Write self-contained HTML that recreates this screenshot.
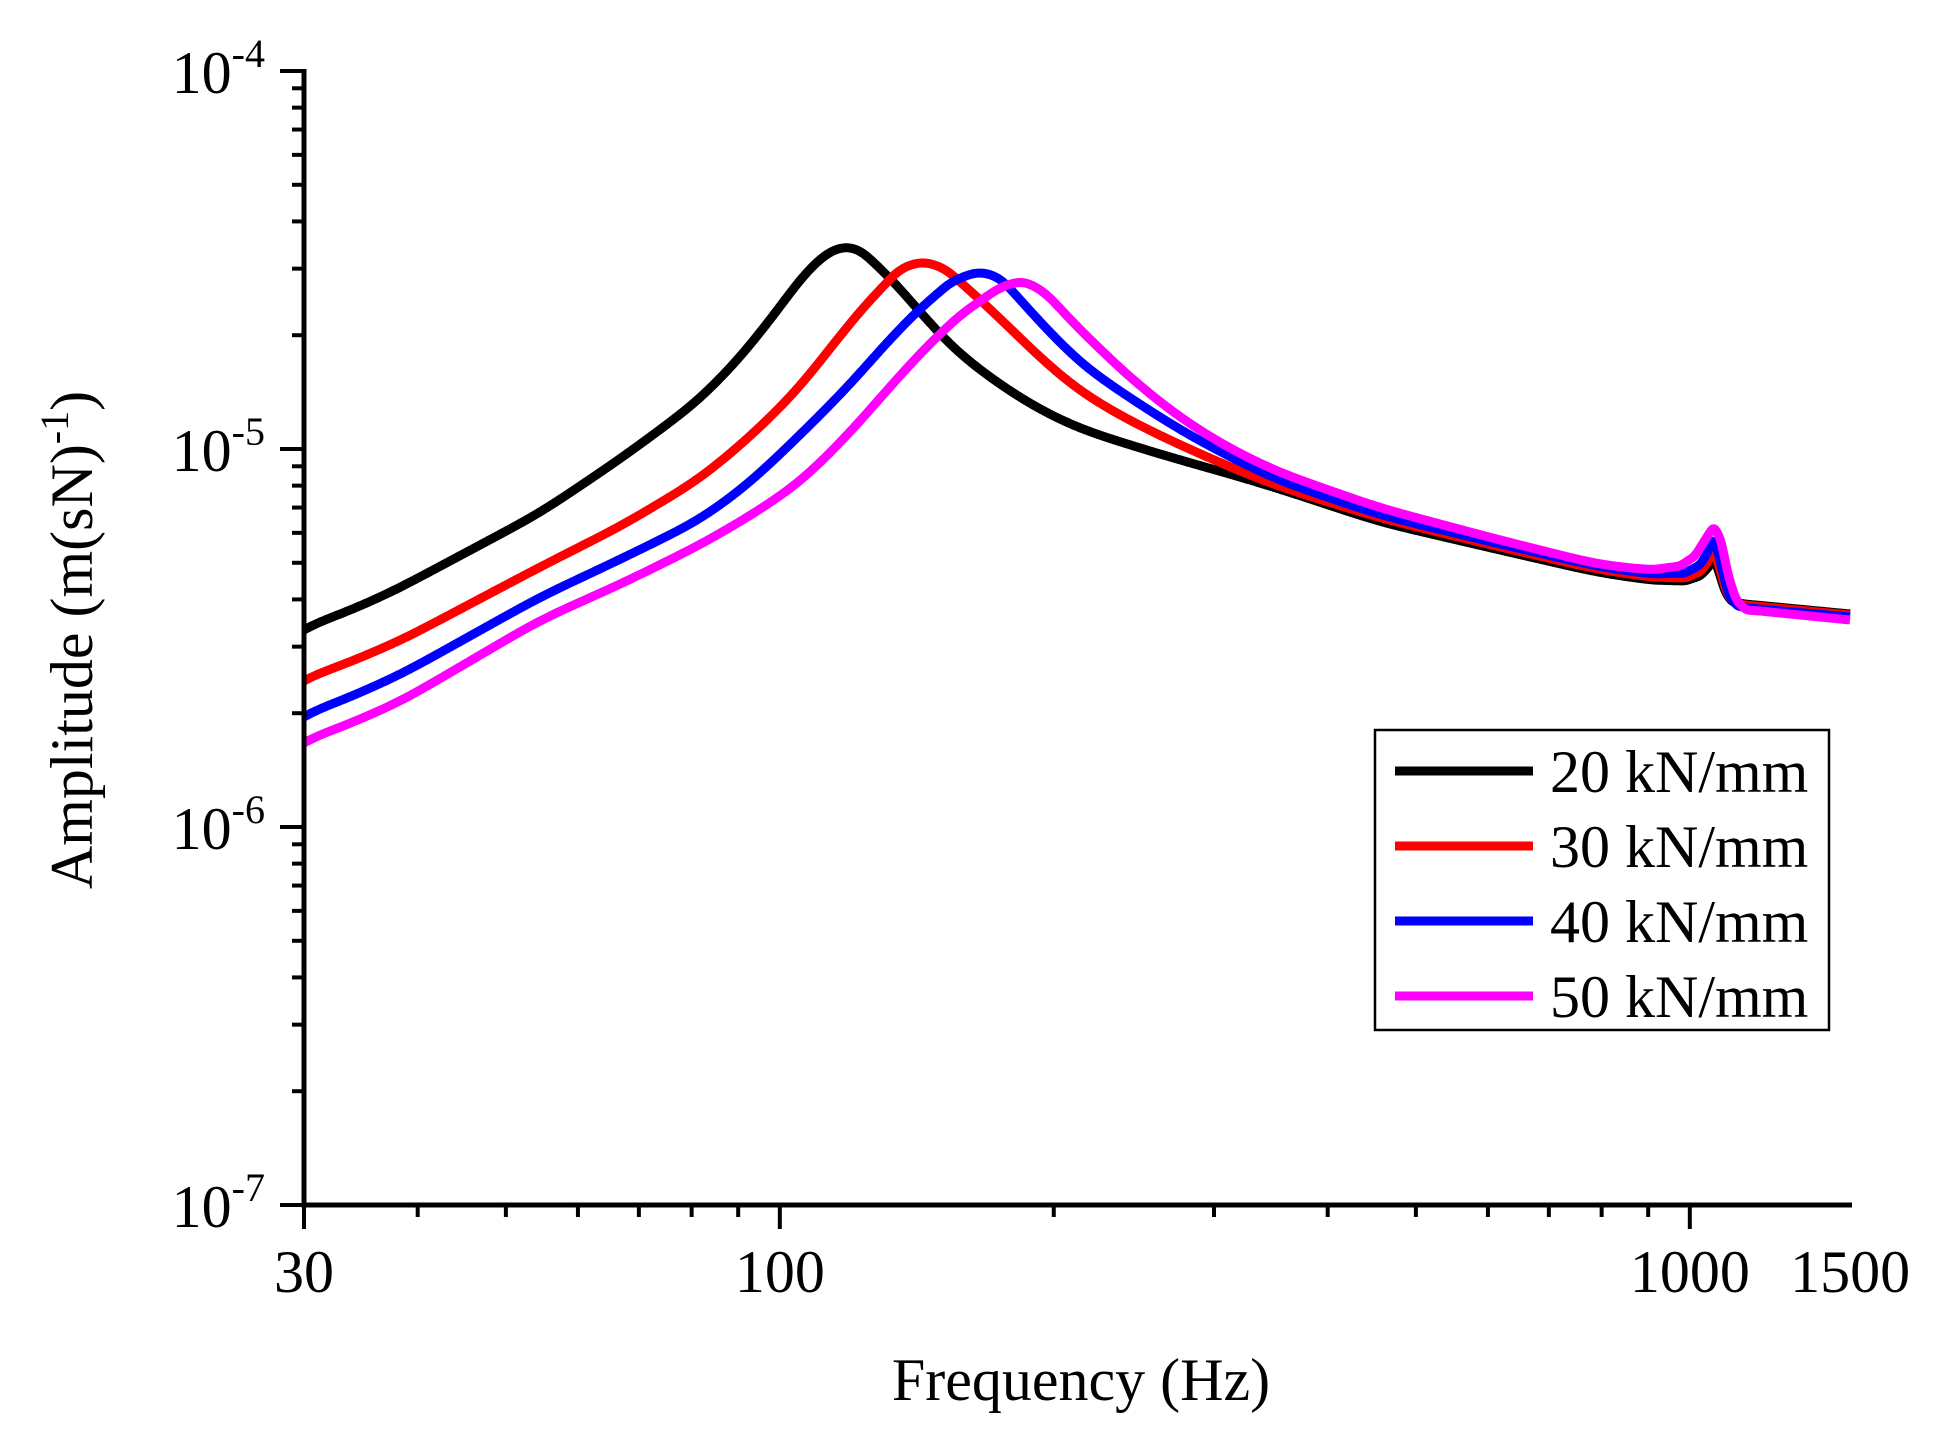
<!DOCTYPE html>
<html><head><meta charset="utf-8">
<style>
html,body{margin:0;padding:0;background:#fff;}
svg{display:block;}
text{font-family:"Liberation Serif","Times New Roman",serif;fill:#000;}
</style></head>
<body>
<svg id="s" width="1938" height="1440" viewBox="0 0 1938 1440" xmlns="http://www.w3.org/2000/svg">
<rect width="1938" height="1440" fill="#fff"/>
<g id="curves" fill="none" stroke-width="9" stroke-linejoin="round" stroke-linecap="butt"></g>
<g id="axes" stroke="#000" fill="none"></g>
<g id="labels" font-size="60"></g>
<text x="1081" y="1400" font-size="60" text-anchor="middle">Frequency (Hz)</text>
<text transform="translate(92,640) rotate(-90)" font-size="60" text-anchor="middle">Amplitude (m(sN)<tspan dy="-24" font-size="40">-1</tspan><tspan dy="24">)</tspan></text>
<rect x="1375" y="730" width="454" height="300" fill="#fff" stroke="#000" stroke-width="2.5"/>
<line x1="1395" y1="771" x2="1533" y2="771" stroke="#000" stroke-width="9"/>
<line x1="1395" y1="846" x2="1533" y2="846" stroke="#ff0000" stroke-width="9"/>
<line x1="1395" y1="921" x2="1533" y2="921" stroke="#0000ff" stroke-width="9"/>
<line x1="1395" y1="996" x2="1533" y2="996" stroke="#ff00ff" stroke-width="9"/>
<text x="1550" y="792" font-size="60">20 kN/mm</text>
<text x="1550" y="867" font-size="60">30 kN/mm</text>
<text x="1550" y="942" font-size="60">40 kN/mm</text>
<text x="1550" y="1017" font-size="60">50 kN/mm</text>
</svg>
<script>
(function(){
var NS="http://www.w3.org/2000/svg";
var X0=304,DEC=910,YT=71,YB=1205,YD=378;
function fx(f){return X0+DEC*Math.log10(f/30);}
function el(tag,attrs,parent){var e=document.createElementNS(NS,tag);for(var k in attrs)e.setAttribute(k,attrs[k]);parent.appendChild(e);return e;}
var ax=document.getElementById('axes'), lb=document.getElementById('labels');
el('line',{x1:X0,y1:YT-2,x2:X0,y2:YB+2.5,'stroke-width':5},ax);
el('line',{x1:X0-2.5,y1:YB,x2:1852,y2:YB,'stroke-width':5},ax);
for(var d=0;d<3;d++){
  var base=YB-d*YD;
  el('line',{x1:X0-24,y1:base,x2:X0,y2:base,'stroke-width':4},ax);
  for(var m=2;m<=9;m++){var y=base-YD*Math.log10(m);el('line',{x1:X0-12,y1:y,x2:X0,y2:y,'stroke-width':4},ax);}
}
el('line',{x1:X0-24,y1:YT,x2:X0,y2:YT,'stroke-width':4},ax);
[30,100,1000].forEach(function(f){var x=fx(f);el('line',{x1:x,y1:YB,x2:x,y2:YB+24,'stroke-width':4},ax);});
[40,50,60,70,80,90,200,300,400,500,600,700,800,900].forEach(function(f){var x=fx(f);el('line',{x1:x,y1:YB,x2:x,y2:YB+12,'stroke-width':4},ax);});
[[30,'30'],[100,'100'],[1000,'1000'],[1500,'1500']].forEach(function(p){var t=el('text',{x:fx(p[0]),y:1292,'text-anchor':'middle'},lb);t.textContent=p[1];});
var ex=['-7','-6','-5','-4'];
for(var i=0;i<4;i++){
  var y=YB-i*YD;
  var t=el('text',{x:265,y:y+22,'text-anchor':'end'},lb);
  var a=document.createElementNS(NS,'tspan');a.textContent='10';t.appendChild(a);
  var b=document.createElementNS(NS,'tspan');b.setAttribute('dy','-26');b.setAttribute('font-size','40');b.textContent=ex[i];t.appendChild(b);
}
var data={
 '#000000':[843,[[304,630],[390,593],[540,513],[623,457],[700,400],[750,347],[800,279],[825,254],[843,246],[860,249],[900,288],[950,347],[1000,385],[1040,410],[1080,429],[1130,445],[1180,460],[1230,474],[1280,489],[1380,522],[1500,550],[1600,573],[1650,580],[1685,581],[1700,576],[1708,568],[1714,558],[1719,572],[1725,592],[1732,602],[1745,604],[1850,614]]],
 '#ff0000':[923,[[304,681],[400,641],[540,567],[623,525],[700,479],[750,437],[800,388],[850,322],[900,268],[923,261],[945,268],[1000,318],[1040,358],[1080,392],[1130,421],[1180,445],[1230,467],[1280,487],[1380,518],[1500,547],[1600,570],[1650,577],[1685,578],[1700,572],[1708,562],[1714,549],[1720,570],[1727,594],[1735,603],[1745,605],[1850,615]]],
 '#0000ff':[978,[[304,717],[400,675],[540,597],[623,558],[700,520],[750,483],[800,435],[850,385],[900,327],[950,282],[978,271],[1000,277],[1040,322],[1080,364],[1130,398],[1180,430],[1230,457],[1280,481],[1380,515],[1500,544],[1600,567],[1650,574],[1685,573],[1700,565],[1708,552],[1714,536],[1720,560],[1728,594],[1737,606],[1748,608],[1850,617]]],
 '#ff00ff':[1023,[[304,743],[400,702],[540,620],[623,583],[700,545],[750,516],[800,483],[850,433],[900,375],[950,322],[1000,287],[1023,280],[1045,292],[1080,330],[1130,378],[1180,418],[1230,449],[1280,473],[1380,508],[1500,540],[1600,565],[1650,570],[1680,566],[1695,556],[1705,540],[1714,526],[1721,540],[1728,575],[1736,600],[1746,610],[1760,611],[1850,620]]]
};
var g=document.getElementById('curves');
function interp(pts,x){
  for(var i=0;i<pts.length-1;i++){
    if(x<=pts[i+1][0]){var t=(x-pts[i][0])/(pts[i+1][0]-pts[i][0]);return pts[i][1]+t*(pts[i+1][1]-pts[i][1]);}
  }
  return pts[pts.length-1][1];
}
function sig(x,pk){
  if(x>=1665) return 2;
  var base=20;
  var dp=Math.abs(x-pk);
  if(dp<30) base=8; else if(dp<80) base=8+(dp-30)/50*12;
  if(x>1620) base=base+(2-base)*(x-1620)/45;
  return base;
}
for(var c in data){
  var pk=data[c][0], pts=data[c][1], xs=[], ys=[];
  for(var x=304;x<=1850;x++){xs.push(x);ys.push(interp(pts,x));}
  var out=[];
  for(var j=0;j<xs.length;j++){
    var s=sig(xs[j],pk), R=Math.ceil(3*s), sw=0, sy=0;
    for(var k=-R;k<=R;k++){
      var idx=j+k; if(idx<0||idx>=xs.length) continue;
      var w=Math.exp(-k*k/(2*s*s)); sw+=w; sy+=w*ys[idx];
    }
    var yy=sy/sw;
    if(j<50){var wgt=1-j/50; yy=yy*(1-wgt)+ys[j]*wgt;}
    out.push(xs[j]+','+yy.toFixed(1));
  }
  el('polyline',{points:out.join(' '),stroke:c},g);
}
})();
</script>
</body></html>
